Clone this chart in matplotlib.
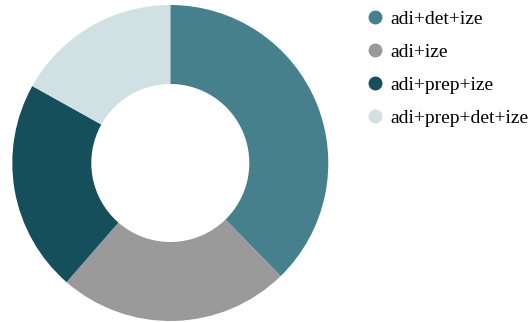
import matplotlib
matplotlib.use('Agg')
import matplotlib.pyplot as plt
from matplotlib.lines import Line2D

labels = ['adi+det+ize', 'adi+ize', 'adi+prep+ize', 'adi+prep+det+ize']
values = [37.7, 23.7, 21.7, 16.9]
colors = ['#45808C', '#9A9A9A', '#164F5C', '#D0E0E3']

plt.rcParams['font.family'] = ['Liberation Serif', 'DejaVu Serif']

fig = plt.figure(figsize=(5.3, 3.22), dpi=100)
ax = fig.add_axes([12.3 / 530, 1.0 / 322, 316 / 530, 316 / 322])
ax.pie(values, colors=colors, startangle=90, counterclock=False,
       radius=1.0, wedgeprops=dict(width=0.5, linewidth=0))
ax.set_xlim(-1, 1)
ax.set_ylim(-1, 1)
ax.set_aspect('equal')
ax.axis('off')

handles = [Line2D([], [], linestyle='none', marker='o', markersize=9,
                  markerfacecolor=c, markeredgecolor=c) for c in colors]
fig.legend(handles, labels, loc='upper left', bbox_to_anchor=(353 / 530, 1.005),
           frameon=False, fontsize=14, labelspacing=0.8, handletextpad=0.2,
           handlelength=1.1, borderpad=0.1)

fig.savefig('out.png', dpi=100)
